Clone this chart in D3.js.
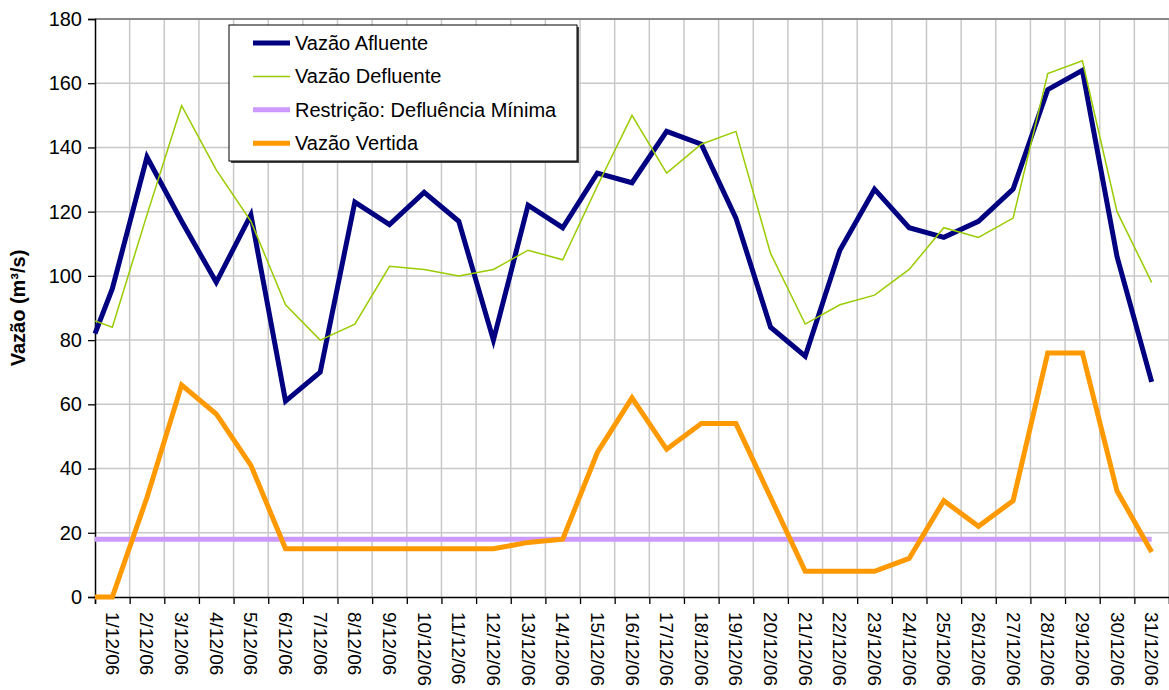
<!DOCTYPE html>
<html>
<head>
<meta charset="utf-8">
<script src="https://cdn.jsdelivr.net/npm/d3@7"></script>
<style>
  html, body { margin: 0; padding: 0; background: #fff; }
  svg { display: block; font-family: Arial, "Liberation Sans", sans-serif; }
</style>
</head>
<body>
<svg id="chart" width="1169" height="690"></svg>
<script>
// ---- data ----
const dayLabels = ["1/12/06","2/12/06","3/12/06","4/12/06","5/12/06","6/12/06","7/12/06","8/12/06","9/12/06","10/12/06",
  "11/12/06","12/12/06","13/12/06","14/12/06","15/12/06","16/12/06","17/12/06","18/12/06","19/12/06","20/12/06",
  "21/12/06","22/12/06","23/12/06","24/12/06","25/12/06","26/12/06","27/12/06","28/12/06","29/12/06","30/12/06","31/12/06"];
// first value = initial state at start of month, then one value per day
const vazaoAfluente = [82, 96, 137, 117, 98, 119, 61, 70, 123, 116, 126, 117, 80, 122, 115, 132, 129, 145, 141, 118, 84, 75, 108, 127, 115, 112, 117, 127, 158, 164, 106, 67];
const vazaoDefluente = [86, 84, 119, 153, 133, 117, 91, 80, 85, 103, 102, 100, 102, 108, 105, 128, 150, 132, 141, 145, 107, 85, 91, 94, 102, 115, 112, 118, 163, 167, 120, 98];
const restricaoDefluenciaMinima = [18, 18, 18, 18, 18, 18, 18, 18, 18, 18, 18, 18, 18, 18, 18, 18, 18, 18, 18, 18, 18, 18, 18, 18, 18, 18, 18, 18, 18, 18, 18, 18];
const vazaoVertida = [0, 0, 31, 66, 57, 41, 15, 15, 15, 15, 15, 15, 15, 17, 18, 45, 62, 46, 54, 54, 31, 8, 8, 8, 12, 30, 22, 30, 76, 76, 33, 14];
const yTicks = [0, 20, 40, 60, 80, 100, 120, 140, 160, 180];
const seriesNames = ["Vazão Afluente", "Vazão Defluente", "Restrição: Defluência Mínima", "Vazão Vertida"];
const yTitle = "Vazão (m³/s)";

// time in days: 0 = start of month, i+0.5 = middle of day i+1
const times = [0].concat(dayLabels.map((d, i) => i + 0.5));

const series = [
  { name: seriesNames[0], values: vazaoAfluente, color: "#000080", width: 5 },
  { name: seriesNames[1], values: vazaoDefluente, color: "#99CC00", width: 1.5 },
  { name: seriesNames[2], values: restricaoDefluenciaMinima, color: "#CC99FF", width: 5 },
  { name: seriesNames[3], values: vazaoVertida, color: "#FF9900", width: 5 }
];

// ---- layout ----
const svg = d3.select("#chart");
const plotL = 95, plotR = 1169, plotT = 19, plotB = 597;

const x = d3.scaleLinear().domain([0, dayLabels.length]).range([plotL, plotR]);
const y = d3.scaleLinear().domain([0, 180]).range([plotB, plotT]);

svg.append("rect").attr("width", 1169).attr("height", 690).attr("fill", "#fff");

// gridlines
const boundaries = d3.range(1, dayLabels.length + 1);
svg.append("g").selectAll("line").data(boundaries).join("line")
  .attr("x1", d => x(d)).attr("x2", d => x(d))
  .attr("y1", plotT).attr("y2", plotB)
  .attr("stroke", "#c8c8c8").attr("stroke-width", 1.5);
svg.append("g").selectAll("line").data(yTicks.filter(t => t > 0)).join("line")
  .attr("x1", plotL).attr("x2", plotR)
  .attr("y1", d => y(d)).attr("y2", d => y(d))
  .attr("stroke", d => d === 180 ? "#888" : "#c8c8c8")
  .attr("stroke-width", d => d === 180 ? 2 : 1.5);

// y axis
const yAxis = d3.axisLeft(y).tickValues(yTicks).tickSize(7).tickPadding(6);
const gy = svg.append("g").attr("transform", `translate(${plotL},0)`).call(yAxis);
gy.select(".domain").attr("stroke", "#000").attr("stroke-width", 1.5);
gy.selectAll(".tick line").attr("stroke", "#000").attr("stroke-width", 1.3);
gy.selectAll(".tick text").attr("font-size", 20).attr("fill", "#000")
  .attr("font-family", "Arial, 'Liberation Sans', sans-serif");

// x axis
const xAxis = d3.axisBottom(x).tickValues(d3.range(0, dayLabels.length + 1)).tickSize(7).tickFormat("");
const gx = svg.append("g").attr("transform", `translate(0,${plotB})`).call(xAxis);
gx.select(".domain").attr("stroke", "#000").attr("stroke-width", 1.5);
gx.selectAll(".tick line").attr("stroke", "#000").attr("stroke-width", 1.3);

svg.append("g").selectAll("text").data(dayLabels).join("text")
  .attr("transform", (d, i) => `translate(${x(i + 0.5)},${plotB + 15}) rotate(90)`)
  .attr("dominant-baseline", "central")
  .attr("text-anchor", "start")
  .attr("font-size", 19)
  .attr("fill", "#000")
  .text(d => d);

// y title
svg.append("text")
  .attr("transform", `translate(18,${(plotT + plotB) / 2}) rotate(-90)`)
  .attr("text-anchor", "middle")
  .attr("dominant-baseline", "central")
  .attr("font-size", 20)
  .attr("font-weight", "bold")
  .attr("fill", "#000")
  .text(yTitle);

// lines
const line = d3.line().x((d, i) => x(times[i])).y(d => y(d));
svg.append("g").selectAll("path").data(series).join("path")
  .attr("d", s => line(s.values))
  .attr("fill", "none")
  .attr("stroke", s => s.color)
  .attr("stroke-width", s => s.width)
  .attr("stroke-linejoin", "miter")
  .attr("stroke-miterlimit", 4);

// legend
const lg = svg.append("g").attr("transform", "translate(229,25)");
lg.append("rect").attr("x", 2).attr("y", 2).attr("width", 348).attr("height", 136).attr("fill", "#444");
lg.append("rect").attr("x", 0).attr("y", 0).attr("width", 348).attr("height", 136)
  .attr("fill", "#fff").attr("stroke", "#000").attr("stroke-width", 1);
const rows = lg.selectAll("g").data(series).join("g")
  .attr("transform", (d, i) => `translate(0,${18 + i * 33.4})`);
rows.append("line").attr("x1", 24).attr("x2", 61).attr("y1", 0).attr("y2", 0)
  .attr("stroke", d => d.color).attr("stroke-width", d => d.width);
rows.append("text").attr("x", 66).attr("y", 0)
  .attr("dominant-baseline", "central")
  .attr("font-size", 20).attr("fill", "#000")
  .text(d => d.name);
</script>
</body>
</html>
